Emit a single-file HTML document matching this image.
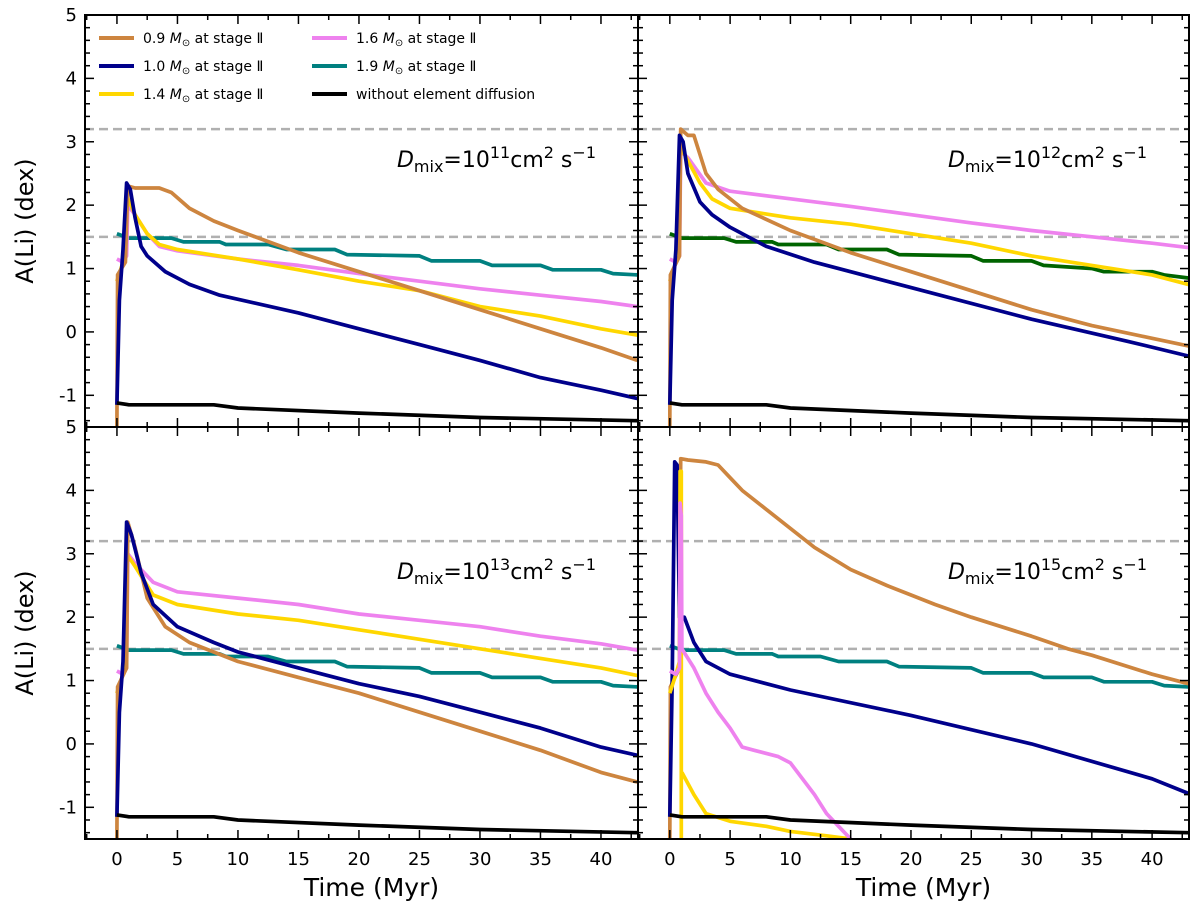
<!DOCTYPE html>
<html><head><meta charset="utf-8"><style>
body{margin:0;background:#fff;}
svg{display:block;font-family:"DejaVu Sans","Liberation Sans",sans-serif;}
</style></head><body>
<svg id="chart" width="1200" height="914" viewBox="0 0 1200 914" xmlns="http://www.w3.org/2000/svg"></svg>
<script>
const xTicks=[0,5,10,15,20,25,30,35,40];
const yTicks=[-1,0,1,2,3,4,5];
const refLines=[3.2,1.5];
const panelLabels=["11","12","13","15"];
const black=[[0,-1.12],[1,-1.15],[8,-1.15],[10,-1.2],[20,-1.28],[30,-1.35],[43,-1.4]];
const teal=[[0,1.55],[1,1.48],[4.5,1.48],[5.5,1.42],[8.5,1.42],[9,1.38],[12.5,1.38],[14,1.3],[18,1.3],[19,1.22],[25,1.2],[26,1.12],[30,1.12],[31,1.05],[35,1.05],[36,0.98],[40,0.98],[41,0.92],[43,0.9]];
const p1Brown=[[0,-1.5],[0.05,0.9],[0.7,1.1],[0.9,2.3],[1.5,2.27],[3.5,2.27],[4.5,2.2],[6,1.95],[8,1.75],[10,1.6],[15,1.25],[20,0.95],[25,0.65],[30,0.35],[35,0.05],[40,-0.25],[43,-0.45]];
const p1Blue=[[0,-1.15],[0.2,0.5],[0.5,1.3],[0.8,2.35],[1.1,2.25],[1.5,1.8],[2,1.35],[2.5,1.2],[4,0.95],[6,0.75],[8.5,0.58],[15,0.3],[20,0.05],[25,-0.2],[30,-0.45],[35,-0.72],[40,-0.92],[43,-1.05]];
const p1Yellow=[[0,0.8],[0.5,1.1],[0.8,2.15],[1.5,1.85],[2.5,1.55],[3.5,1.38],[5,1.3],[10,1.15],[15,0.98],[20,0.8],[25,0.65],[30,0.4],[35,0.25],[40,0.05],[43,-0.05]];
const p1Pink=[[0,1.15],[0.5,1.1],[0.8,1.2],[0.9,2.0],[1.5,1.85],[2.5,1.55],[3.5,1.35],[5,1.28],[10,1.15],[15,1.05],[20,0.92],[25,0.8],[30,0.68],[35,0.58],[40,0.48],[43,0.4]];
const p2Brown=[[0,-1.5],[0.05,0.9],[0.8,1.2],[0.9,3.2],[1.5,3.1],[2,3.1],[3,2.5],[4,2.25],[6,1.95],[10,1.6],[15,1.25],[20,0.95],[25,0.65],[30,0.35],[35,0.1],[40,-0.1],[43,-0.22]];
const p2Blue=[[0,-1.15],[0.2,0.5],[0.5,1.3],[0.8,3.1],[1.1,3.0],[1.5,2.5],[2.5,2.05],[3.5,1.85],[5,1.65],[8,1.35],[12,1.1],[20,0.7],[30,0.2],[38,-0.15],[43,-0.38]];
const p2Yellow=[[0,0.8],[0.5,1.1],[0.8,2.95],[1.5,2.7],[2.5,2.35],[3.5,2.1],[5,1.95],[10,1.8],[15,1.7],[20,1.55],[25,1.4],[30,1.2],[35,1.05],[40,0.9],[43,0.75]];
const p2Pink=[[0,1.15],[0.5,1.1],[0.8,1.2],[0.9,2.85],[1.5,2.75],[3,2.35],[5,2.22],[10,2.1],[15,1.98],[20,1.85],[25,1.72],[30,1.6],[35,1.5],[40,1.4],[43,1.33]];
const p2Green=[[0,1.55],[1,1.48],[4.5,1.48],[5.5,1.42],[8.5,1.42],[9,1.38],[13,1.38],[14,1.3],[18,1.3],[19,1.22],[25,1.2],[26,1.12],[30,1.12],[31,1.05],[35,1.0],[36,0.95],[40,0.95],[41,0.9],[43,0.85]];
const p3Brown=[[0,-1.5],[0.05,0.9],[0.8,1.2],[0.9,3.5],[1.5,3.1],[2.5,2.3],[4,1.85],[6,1.6],[10,1.3],[15,1.05],[20,0.8],[25,0.5],[30,0.2],[35,-0.1],[40,-0.45],[43,-0.6]];
const p3Blue=[[0,-1.15],[0.2,0.5],[0.5,1.3],[0.8,3.5],[1.2,3.3],[2,2.7],[3,2.2],[5,1.85],[8,1.6],[10,1.45],[15,1.2],[20,0.95],[25,0.75],[30,0.5],[35,0.25],[40,-0.05],[43,-0.18]];
const p3Yellow=[[0,0.8],[0.5,1.1],[0.8,3.0],[1.5,2.8],[3,2.35],[5,2.2],[10,2.05],[15,1.95],[20,1.8],[25,1.65],[30,1.5],[35,1.35],[40,1.2],[43,1.08]];
const p3Pink=[[0,1.15],[0.5,1.1],[0.8,1.2],[0.9,3.0],[1.5,2.85],[3,2.55],[5,2.4],[10,2.3],[15,2.2],[20,2.05],[25,1.95],[30,1.85],[35,1.7],[40,1.58],[43,1.48]];
const p4Brown=[[0,-1.5],[0.05,0.9],[0.8,1.2],[0.9,4.5],[1.5,4.48],[3,4.45],[4,4.4],[5,4.2],[6,4.0],[8,3.7],[10,3.4],[12,3.1],[15,2.75],[18,2.5],[20,2.35],[22,2.2],[25,2.0],[30,1.7],[33,1.5],[35,1.4],[40,1.1],[43,0.95]];
const p4Blue=[[0,-1.15],[0.2,1.0],[0.4,4.45],[0.6,4.4],[0.8,2.0],[1.2,2.0],[2,1.6],[3,1.3],[5,1.1],[8,0.95],[10,0.85],[20,0.45],[30,0.0],[40,-0.55],[43,-0.78]];
const p4YellowSpike=[[0,0.8],[0.5,1.1],[0.8,1.3],[0.85,4.3],[0.95,4.3],[0.95,-1.5]];
const p4YellowTail=[[1,-0.45],[2,-0.8],[3,-1.1],[5,-1.22],[8,-1.3],[10,-1.38],[13,-1.45],[15,-1.5]];
const p4Pink=[[0,1.15],[0.5,1.1],[0.8,1.2],[0.85,3.8],[0.95,3.6],[1,1.5],[2,1.2],[3,0.8],[4,0.5],[5,0.25],[6,-0.05],[7,-0.1],[8,-0.15],[9,-0.2],[10,-0.3],[12,-0.8],[13,-1.1],[14,-1.3],[15,-1.5]];

const C={brown:"#cd853f",blue:"#00008b",yellow:"#ffd700",pink:"#ee82ee",teal:"#008080",green:"#006400",black:"#000"};
const panels=[
 {x0:85,x1:638,y0:15,y1:427,series:[["teal",teal],["pink",p1Pink],["yellow",p1Yellow],["brown",p1Brown],["blue",p1Blue],["black",black]]},
 {x0:638,x1:1189,y0:15,y1:427,series:[["pink",p2Pink],["green",p2Green],["yellow",p2Yellow],["brown",p2Brown],["blue",p2Blue],["black",black]]},
 {x0:85,x1:638,y0:427,y1:839,series:[["teal",teal],["pink",p3Pink],["yellow",p3Yellow],["brown",p3Brown],["blue",p3Blue],["black",black]]},
 {x0:638,x1:1189,y0:427,y1:839,series:[["teal",teal],["brown",p4Brown],["blue",p4Blue],["yellow",p4YellowSpike],["yellow",p4YellowTail],["pink",p4Pink],["black",black]]}
];
const XMIN=-2.64,XMAX=43.06,YMIN=-1.5,YMAX=5;
const svg=document.getElementById('chart');
const NS="http://www.w3.org/2000/svg";
function mk(tag,attrs,parent){const e=document.createElementNS(NS,tag);for(const k in attrs)e.setAttribute(k,attrs[k]);(parent||svg).appendChild(e);return e;}
const defs=mk('defs',{});
panels.forEach((p,i)=>{
 const sx=v=>p.x0+(v-XMIN)/(XMAX-XMIN)*(p.x1-p.x0);
 const sy=v=>p.y1-(v-YMIN)/(YMAX-YMIN)*(p.y1-p.y0);
 const cp=mk('clipPath',{id:'cp'+i},defs);mk('rect',{x:p.x0,y:p.y0,width:p.x1-p.x0,height:p.y1-p.y0},cp);
 const g=mk('g',{'clip-path':'url(#cp'+i+')'});
 
 
 refLines.forEach(r=>{const l=mk('line',{x1:p.x0,x2:p.x1,y1:sy(r),y2:sy(r),stroke:'#b0b0b0','stroke-width':2.5,'stroke-dasharray':'9,5'},g);
  
  });
 p.series.forEach(([c,d])=>{const pl=mk('polyline',{points:d.map(q=>sx(q[0]).toFixed(1)+','+sy(q[1]).toFixed(1)).join(' '),fill:'none',stroke:C[c],'stroke-width':3.7,'stroke-linejoin':'round'},g);
  
  });
 const tg=mk('g',{stroke:'#000','stroke-width':1.5});
 
 
 for(let t=-2.5;t<=42.5;t+=2.5){const X=sx(t);if(X<p.x0||X>p.x1)continue;const L=(t%5===0)?9:5;
  mk('line',{x1:X,x2:X,y1:p.y1,y2:p.y1-L},tg);mk('line',{x1:X,x2:X,y1:p.y0,y2:p.y0+L},tg);}
 for(let k=-7;k<=25;k++){const v=k*0.2;if(v<YMIN-1e-6||v>YMAX+1e-6)continue;const Y=sy(v);const L=(Math.abs(v-Math.round(v))<1e-6)?9:5;
  mk('line',{x1:p.x0,x2:p.x0+L,y1:Y,y2:Y},tg);mk('line',{x1:p.x1,x2:p.x1-L,y1:Y,y2:Y},tg);}
 const fr=mk('rect',{x:p.x0,y:p.y0,width:p.x1-p.x0,height:p.y1-p.y0,fill:'none',stroke:'#000','stroke-width':2});
 
 
 if(i>=2){xTicks.forEach(t=>{const tx=mk('text',{x:sx(t),y:p.y1+26,'text-anchor':'middle','font-size':18});tx.textContent=t;
   
   });
  const xl=mk('text',{x:(p.x0+p.x1)/2+10,y:p.y1+57,'text-anchor':'middle','font-size':25});xl.textContent='Time (Myr)';
  
  }
 if(i%2===0){yTicks.forEach(t=>{const tx=mk('text',{x:p.x0-8,y:sy(t)+6,'text-anchor':'end','font-size':18});tx.textContent=t;
   
   });
  const yl=mk('text',{x:0,y:0,'text-anchor':'middle','font-size':24,transform:'translate(33,'+((p.y0+p.y1)/2)+') rotate(-90)'});yl.textContent='A(Li) (dex)';
  
  }
 const an=mk('text',{x:p.x1-42,y:p.y0+152,'text-anchor':'end','font-size':22});
 
 
 an.innerHTML='<tspan font-style="italic">D</tspan><tspan font-size="16" dy="5">mix</tspan><tspan dy="-5">=10</tspan><tspan font-size="16" dy="-9">'+panelLabels[i]+'</tspan><tspan dy="9">cm</tspan><tspan font-size="16" dy="-9">2</tspan><tspan dy="9"> s</tspan><tspan font-size="16" dy="-9">−1</tspan>';
});
const leg=[["brown","0.9"],["blue","1.0"],["yellow","1.4"],["pink","1.6"],["teal","1.9"],["black",null]];
const lg=mk('g',{});


leg.forEach(([c,m],k)=>{const col=Math.floor(k/3),row=k%3;const x=99+col*213,y=38+row*28;
 const l=mk('line',{x1:x,x2:x+35,y1:y,y2:y,stroke:C[c],'stroke-width':4},lg);
 
 
 const t=mk('text',{x:x+44,y:y+5,'font-size':14},lg);
 
 
 if(m)t.innerHTML=m+' <tspan font-style="italic">M</tspan><tspan font-size="10" dy="3">⊙</tspan><tspan dy="-3"> at stage Ⅱ</tspan>';
 else t.textContent='without element diffusion';
});
</script>
</body></html>
